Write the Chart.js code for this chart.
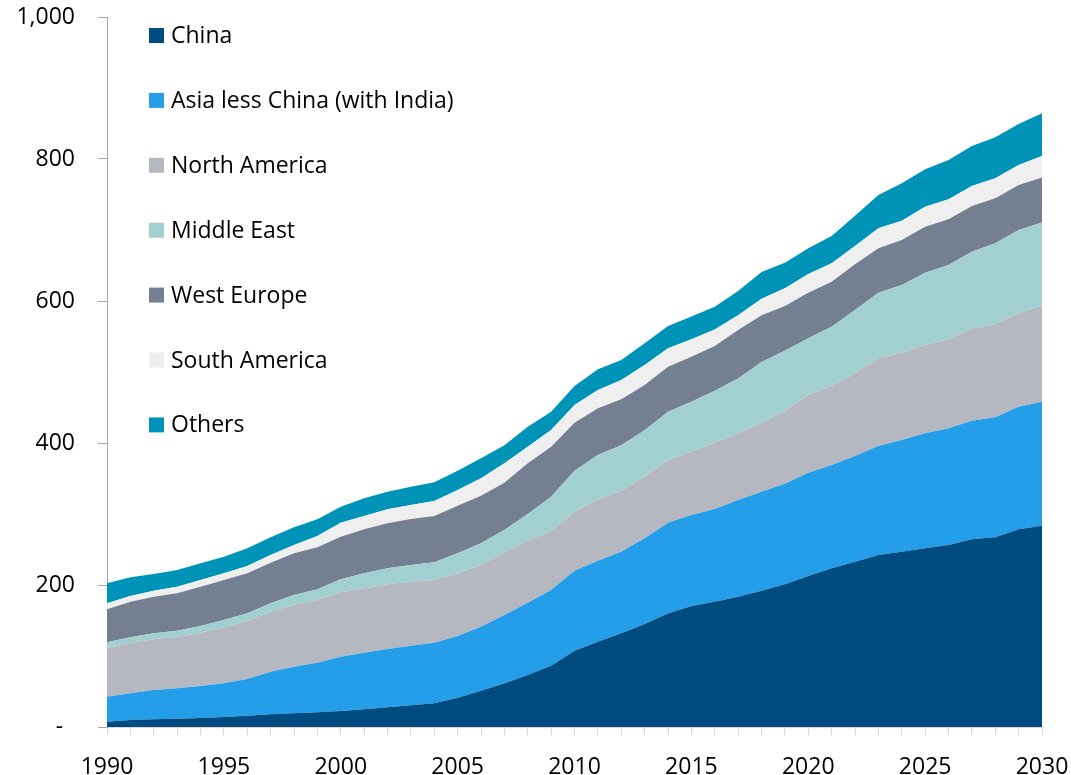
<!DOCTYPE html>
<html>
<head>
<meta charset="utf-8">
<script src="https://cdn.jsdelivr.net/npm/chart.js@4.4.1/dist/chart.umd.min.js"></script>
<style>
html,body{margin:0;padding:0;background:#ffffff;}
#wrap{width:1071px;height:775px;position:relative;}
</style>
</head>
<body>
<div id="wrap"><canvas id="c" width="1071" height="775"></canvas></div>
<script>
const years = ['1990','1991','1992','1993','1994','1995','1996','1997','1998','1999',
  '2000','2001','2002','2003','2004','2005','2006','2007','2008','2009',
  '2010','2011','2012','2013','2014','2015','2016','2017','2018','2019',
  '2020','2021','2022','2023','2024','2025','2026','2027','2028','2029','2030'];
const xTickLabels = ['1990','1995','2000','2005','2010','2015','2020','2025','2030'];
const yTickValues = [0, 200, 400, 600, 800, 1000];
const yTickLabels = ['-  ', '200', '400', '600', '800', '1,000'];

const seriesNames = ['China', 'Asia less China (with India)', 'North America', 'Middle East', 'West Europe', 'South America', 'Others'];

const china = [7.5, 9.9, 10.8, 11.7, 12.7, 14.1, 16.0, 17.8, 19.2, 20.7,
  22.5, 24.9, 27.7, 30.5, 33.3, 41.3, 51.2, 61.5, 73.2, 86.4,
  107.5, 120.2, 131.9, 145.0, 160.0, 170.4, 176.5, 183.6, 192.0, 201.0,
  212.7, 223.5, 232.9, 242.3, 247.0, 251.6, 256.3, 264.3, 267.2, 278.4, 283.5];
const asia = [35.2, 37.5, 41.3, 42.8, 45.0, 47.4, 51.6, 60.1, 65.8, 69.9,
  76.5, 79.8, 82.2, 84.1, 85.5, 86.9, 90.1, 96.2, 101.8, 106.6,
  112.5, 113.8, 115.1, 120.7, 127.8, 128.2, 130.5, 136.1, 139.5, 141.5,
  145.5, 145.5, 148.8, 153.5, 157.2, 162.0, 164.4, 167.2, 169.0, 172.8, 174.7];
const northAmerica = [68.1, 71.4, 71.4, 72.7, 75.2, 78.9, 81.7, 84.5, 86.8, 88.3,
  90.7, 90.6, 91.1, 90.1, 88.2, 88.3, 86.7, 88.3, 87.4, 83.5,
  83.0, 86.7, 85.8, 86.9, 88.2, 89.2, 93.5, 93.9, 97.1, 102.5,
  109.4, 111.3, 116.4, 123.4, 123.0, 124.4, 125.3, 130.0, 131.4, 131.4, 135.2];
const middleEast = [8.4, 7.5, 8.4, 8.5, 9.4, 10.3, 10.8, 11.8, 14.1, 15.0,
  18.3, 21.2, 22.5, 23.5, 24.9, 28.1, 30.7, 31.5, 37.6, 47.9,
  58.0, 62.3, 64.2, 65.4, 68.0, 70.2, 73.2, 77.4, 85.4, 85.0,
  79.8, 83.5, 89.2, 92.5, 95.3, 101.9, 104.7, 108.0, 113.6, 117.4, 117.1];
const westEurope = [46.5, 50.2, 51.7, 52.6, 55.4, 56.3, 56.4, 57.3, 58.7, 59.2,
  60.1, 61.9, 63.4, 64.8, 65.3, 67.1, 67.1, 66.5, 71.4, 70.4,
  67.6, 65.8, 64.5, 63.7, 63.5, 63.6, 62.9, 68.0, 66.0, 63.0,
  64.3, 63.4, 64.3, 62.5, 63.5, 64.7, 64.3, 64.3, 63.4, 63.4, 63.4];
const southAmerica = [8.5, 8.0, 8.4, 9.4, 9.3, 9.5, 10.3, 10.8, 11.7, 15.9,
  19.7, 18.8, 19.7, 19.7, 21.1, 22.1, 24.4, 27.4, 23.4, 23.5,
  24.9, 25.8, 27.2, 28.2, 25.8, 24.4, 23.4, 21.0, 23.0, 24.8,
  26.3, 25.8, 25.9, 28.1, 27.1, 28.2, 28.2, 28.2, 28.2, 28.1, 30.5];
const others = [28.2, 26.3, 23.5, 23.4, 23.5, 23.4, 24.9, 24.9, 25.0, 23.5,
  22.5, 24.9, 24.8, 25.8, 26.3, 27.2, 28.2, 25.6, 28.2, 25.7,
  26.8, 29.1, 28.3, 30.5, 31.5, 32.0, 32.0, 34.0, 38.0, 36.2,
  36.2, 38.5, 42.7, 47.0, 52.6, 52.6, 55.4, 56.3, 57.7, 57.8, 60.1];

const seriesColors = ['#004c80', '#249ee8', '#b5b8c0', '#a2cfd0', '#748091', '#efefef', '#0093b8'];
const seriesData = [china, asia, northAmerica, middleEast, westEurope, southAmerica, others];

const FONT = '"Open Sans"';
const FSIZE = 23;

const inlineLegend = {
  id: 'inlineLegend',
  afterDraw(chart) {
    const {ctx, chartArea} = chart;
    ctx.save();
    ctx.font = FSIZE + 'px ' + FONT;
    ctx.textBaseline = 'middle';
    ctx.textAlign = 'left';
    chart.data.datasets.forEach((ds, i) => {
      const cy = chartArea.top + 18.5 + i * 64.9;
      const bx = chartArea.left + 42;
      ctx.fillStyle = ds.backgroundColor;
      ctx.fillRect(bx, cy - 7.5, 15, 15);
      ctx.fillStyle = '#000000';
      ctx.fillText(ds.label, bx + 22, cy + 1);
    });
    ctx.restore();
  }
};

function draw() {
  const datasets = seriesNames.map((name, i) => ({
    label: name,
    data: seriesData[i],
    backgroundColor: seriesColors[i],
    borderColor: 'rgba(0,0,0,0)',
    borderWidth: 1,
    pointRadius: 0,
    pointHoverRadius: 0,
    tension: 0,
    fill: i === 0 ? 'origin' : '-1'
  }));

  new Chart(document.getElementById('c'), {
    type: 'line',
    data: { labels: years, datasets },
    plugins: [inlineLegend],
    options: {
      responsive: false,
      animation: false,
      devicePixelRatio: 1,
      layout: { padding: { left: 0, right: 29, top: 17, bottom: 0 } },
      plugins: { legend: { display: false }, tooltip: { enabled: false } },
      scales: {
        x: {
          type: 'category',
          offset: false,
          grid: { display: true, drawOnChartArea: false, drawTicks: true, tickLength: 8, color: '#d9d9d9', lineWidth: 1 },
          border: { display: true, color: '#d9d9d9', width: 1 },
          ticks: {
            autoSkip: false, maxRotation: 0, minRotation: 0, padding: 19,
            color: '#000000', font: { family: FONT, size: FSIZE },
            callback: function(v, i) { return xTickLabels.includes(years[i]) ? years[i] : ''; }
          },
          afterFit(scale) { scale.height = 48; scale.paddingLeft = 0; scale.paddingRight = 0; }
        },
        y: {
          stacked: true,
          min: 0, max: 1000,
          grid: { display: true, drawOnChartArea: false, drawTicks: true, tickLength: 9, color: '#a6a6a6', lineWidth: 1 },
          border: { display: true, color: '#a6a6a6', width: 1 },
          ticks: {
            stepSize: 200, padding: 23,
            color: '#000000', font: { family: FONT, size: FSIZE },
            callback: function(v) { const k = yTickValues.indexOf(v); return k >= 0 ? yTickLabels[k] : ''; }
          },
          afterFit(scale) { scale.width = 107; scale.paddingTop = 0; scale.paddingBottom = 0; }
        }
      }
    }
  });
}

if (document.fonts && document.fonts.load) {
  document.fonts.load(FSIZE + 'px ' + FONT).then(draw, draw);
} else { draw(); }
</script>
</body>
</html>
